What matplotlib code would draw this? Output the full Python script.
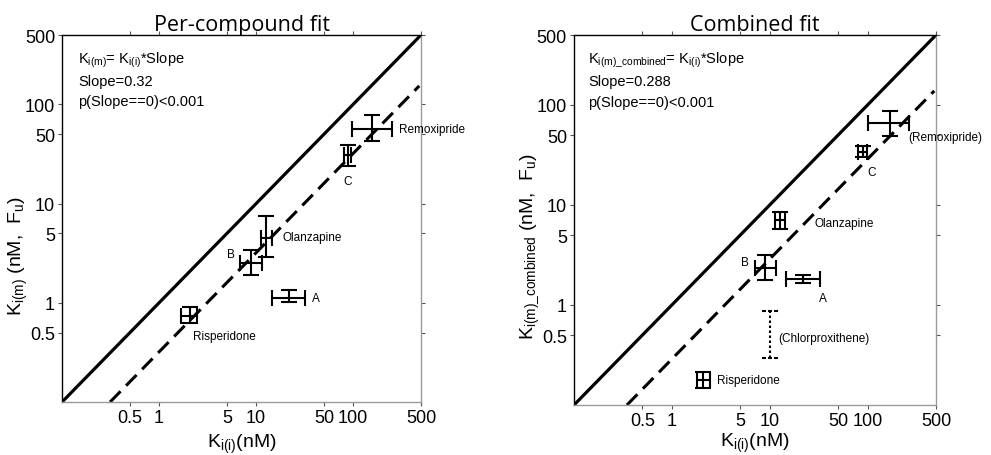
import numpy as np
import matplotlib
matplotlib.use("Agg")
import matplotlib.pyplot as plt
from matplotlib.path import Path

plt.rcParams['font.family'] = ['Liberation Sans', 'DejaVu Sans']
plt.rcParams['mathtext.fontset'] = 'custom'
plt.rcParams['mathtext.rm'] = 'Liberation Sans'
plt.rcParams['mathtext.it'] = 'Liberation Sans'
plt.rcParams['mathtext.bf'] = 'Liberation Sans'

# ---- data ----
tick_vals = [0.5, 1, 5, 10, 50, 100, 500]
tick_labels = ['0.5', '1', '5', '10', '50', '100', '500']

# per-compound fit
names_left = ['Remoxipride', 'C', 'Olanzapine', 'B', 'A', 'Risperidone']
ki_left = [156, 88, 12.6, 8.9, 21.7, 2.07]
ki_lo_left = [98, 81, 11.2, 6.9, 14.6, 1.7]
ki_hi_left = [250, 95, 14.6, 11.5, 31.6, 2.45]
km_left = [57, 31, 4.5, 2.5, 1.12, 0.74]
km_lo_left = [43, 24, 2.9, 1.9, 1.02, 0.63]
km_hi_left = [79, 39, 7.5, 3.4, 1.36, 0.91]
slope_left = 0.32

# combined fit
names_right = ['(Remoxipride)', 'C', 'Olanzapine', 'B', 'A', 'Risperidone']
ki_right = [169, 89.6, 12.7, 8.9, 21.8, 2.08]
ki_lo_right = [101, 80, 11.4, 7.06, 14.6, 1.8]
ki_hi_right = [264, 98, 14.2, 11.6, 32.6, 2.45]
km_right = [66, 34, 7.1, 2.34, 1.82, 0.178]
km_lo_right = [49, 30, 5.75, 1.78, 1.65, 0.148]
km_hi_right = [87, 39, 8.5, 3.16, 2.0, 0.214]
slope_right = 0.288

# chlorproxithene: only a range on the y axis
chlor_name = '(Chlorproxithene)'
chlor_ki = 10
chlor_km = 0.5
chlor_lo = 0.295
chlor_hi = 0.87

lims = (0.1, 500)

DPI = 100
PX = 72 / DPI

# label offsets (pixels) from each point, and alignment
offs_left = {
    'Remoxipride': (27, 0, 'left'),
    'C': (0, -26, 'center'),
    'Olanzapine': (17, 1, 'left'),
    'B': (-20, 9, 'center'),
    'A': (23, 0, 'left'),
    'Risperidone': (3, -20, 'left'),
}
offs_right = {
    '(Remoxipride)': (18, -14, 'left'),
    'C': (9, -20, 'center'),
    'Olanzapine': (35, -3, 'left'),
    'B': (-20, 6, 'center'),
    'A': (20, -19, 'center'),
    'Risperidone': (14, 0, 'left'),
}


def style_axes(ax):
    ax.set_xscale('log')
    ax.set_yscale('log')
    ax.set_xlim(lims)
    ax.set_ylim(lims)
    ax.set_xticks(tick_vals)
    ax.set_xticklabels(tick_labels)
    ax.set_yticks(tick_vals)
    ax.set_yticklabels(tick_labels)
    ax.minorticks_off()
    ax.tick_params(which='both', direction='out', top=True, right=True,
                   length=3, width=0.8, labelsize=13, pad=2, color='#555555')
    for side in ['top', 'left']:
        ax.spines[side].set_color('black')
        ax.spines[side].set_linewidth(1.0)
    for side in ['bottom', 'right']:
        ax.spines[side].set_color('#9a9a9a')
        ax.spines[side].set_linewidth(1.0)


def draw_panel(ax, names, ki, ki_lo, ki_hi, km, km_lo, km_hi, slope, offs):
    ki = np.array(ki)
    km = np.array(km)
    xerr = [ki - np.array(ki_lo), np.array(ki_hi) - ki]
    yerr = [km - np.array(km_lo), np.array(km_hi) - km]

    # identity and fitted line
    ax.plot(lims, lims, color='black', lw=2.3, solid_capstyle='butt')
    x0 = lims[0] / slope
    xs = np.array([x0, 480])
    ax.plot(xs, xs * slope, color='black', lw=2.2, dashes=(4.9, 2.6))

    ax.errorbar(ki, km, xerr=xerr, yerr=yerr, fmt='none', ecolor='black',
                elinewidth=1.5, capsize=6, capthick=1.5)

    for n, x, y in zip(names, ki, km):
        dx, dy, ha = offs[n]
        ax.annotate(n, (x, y), xytext=(dx * PX, dy * PX),
                    textcoords='offset points', ha=ha, va='center',
                    fontsize=8.5)


fig = plt.figure(figsize=(9.91, 4.56), dpi=DPI)
ax1 = fig.add_axes([0.0626, 0.1162, 0.3622, 0.8048])
ax2 = fig.add_axes([0.5792, 0.1096, 0.3653, 0.8114])

style_axes(ax1)
style_axes(ax2)

draw_panel(ax1, names_left, ki_left, ki_lo_left, ki_hi_left,
           km_left, km_lo_left, km_hi_left, slope_left, offs_left)
draw_panel(ax2, names_right, ki_right, ki_lo_right, ki_hi_right,
           km_right, km_lo_right, km_hi_right, slope_right, offs_right)

# dotted range for chlorproxithene, with dotted caps
dot_cap = Path([(-1, 0), (-0.55, 0), (-0.2, 0), (0.2, 0), (0.55, 0), (1, 0)],
               [Path.MOVETO, Path.LINETO, Path.MOVETO, Path.LINETO,
                Path.MOVETO, Path.LINETO])
eb = ax2.errorbar([chlor_ki], [chlor_km],
                  yerr=[[chlor_km - chlor_lo], [chlor_hi - chlor_km]],
                  fmt='none', ecolor='black', elinewidth=1.5, capsize=0)
eb[2][0].set_linestyle((0, (1.2, 1.2)))
ax2.plot([chlor_ki, chlor_ki], [chlor_lo, chlor_hi], ls='none',
         marker=dot_cap, markersize=11, markeredgewidth=1.5, color='black')
ax2.annotate(chlor_name, (chlor_ki, chlor_km), xytext=(9 * PX, -3 * PX),
             textcoords='offset points', ha='left', va='center', fontsize=8.5)

# titles
for ax, t in [(ax1, 'Per-compound fit'), (ax2, 'Combined fit')]:
    ax.set_title(t, fontsize=15.5, family=['Open Sans', 'DejaVu Sans'], pad=2)

# fit annotations
ax1.text(0.045, 0.935, r'K$_{\mathregular{i(m)}}$= K$_{\mathregular{i(i)}}$*Slope',
         transform=ax1.transAxes, fontsize=10.5, va='center')
ax1.text(0.045, 0.875, 'Slope=0.32', transform=ax1.transAxes, fontsize=10.5, va='center')
ax1.text(0.045, 0.82, 'p(Slope==0)<0.001', transform=ax1.transAxes, fontsize=10.5, va='center')

ax2.text(0.04, 0.935, r'K$_{\mathregular{i(m)\_combined}}$= K$_{\mathregular{i(i)}}$*Slope',
         transform=ax2.transAxes, fontsize=10.5, va='center')
ax2.text(0.04, 0.875, 'Slope=0.288', transform=ax2.transAxes, fontsize=10.5, va='center')
ax2.text(0.04, 0.82, 'p(Slope==0)<0.001', transform=ax2.transAxes, fontsize=10.5, va='center')

# axis labels
ax1.set_xlabel(r'K$_{\mathregular{i(i)}}$(nM)', fontsize=14, labelpad=4)
ax2.set_xlabel(r'K$_{\mathregular{i(i)}}$(nM)', fontsize=14, labelpad=1.5)
ax1.set_ylabel(r'K$_{\mathregular{i(m)}}$ (nM,  F$_{\mathregular{u}}$)', fontsize=14)
ax2.set_ylabel(r'K$_{\mathregular{i(m)\_combined}}$ (nM,  F$_{\mathregular{u}}$)', fontsize=14)
ax1.yaxis.set_label_coords(-0.089, 0.40)
ax2.yaxis.set_label_coords(-0.091, 0.43)

fig.savefig('out.png', dpi=DPI)
